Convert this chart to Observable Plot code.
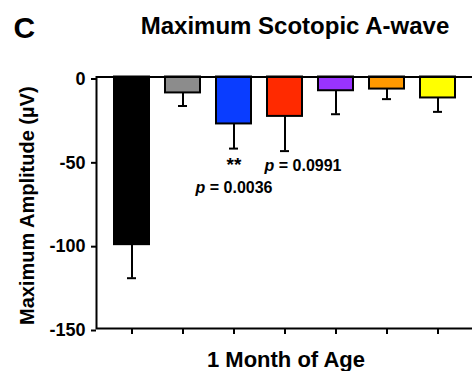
<!DOCTYPE html>
<html>
<head>
<meta charset="utf-8">
<script src="https://cdn.jsdelivr.net/npm/d3@7"></script>
<script src="https://cdn.jsdelivr.net/npm/@observablehq/plot@0.6"></script>
<style>
  body { margin: 0; background: white; }
</style>
</head>
<body>
<div id="chart"></div>
<script>
// Maximum scotopic a-wave amplitude at 1 month of age (mean ± SEM, µV)
const groups = ["G1", "G2", "G3", "G4", "G5", "G6", "G7"];
const colors = ["#000000", "#8c8c8c", "#0a3dff", "#ff2a00", "#9933ff", "#ff9900", "#ffff00"];
const means = [-100, -9.5, -28, -23.5, -8.2, -7.2, -12.5];
const sems = [20, 7.8, 14.7, 20.7, 14.0, 6.0, 8.3];
const yTicks = [0, -50, -100, -150];

// Significance notes attached to the end of each group's error bar
const noteGroups = ["G3", "G3", "G4"];
const noteTexts = ["**", "p = 0.0036", "p = 0.0991"];

const data = groups.map((g, i) => ({
  group: g,
  color: colors[i],
  mean: means[i],
  low: means[i] - sems[i]
}));
const lowOf = Object.fromEntries(data.map(d => [d.group, d.low]));
const notes = noteGroups.map((g, i) => ({group: g, text: noteTexts[i], y: lowOf[g]}));

const font = "'Liberation Sans', Arial, Helvetica, sans-serif";

const chart = Plot.plot({
  width: 472,
  height: 371,
  marginLeft: 96,
  marginRight: 0,
  marginTop: 76.5,
  marginBottom: 43,
  style: {fontFamily: font, fontWeight: "bold", fontSize: "18px", color: "black", background: "white"},
  x: {domain: groups, paddingInner: 0.32, paddingOuter: 0.33},
  y: {domain: [-150, 0]},
  marks: [
    // error bars (downward only)
    Plot.ruleX(data, {x: "group", y1: "mean", y2: "low", stroke: "black", strokeWidth: 2}),
    Plot.tickY(data, {x: "group", y: "low", stroke: "black", strokeWidth: 2, insetLeft: 13, insetRight: 13}),
    // bars
    Plot.barY(data, {x: "group", y: "mean", fill: "color", stroke: "black", strokeWidth: 2}),
    // axes
    Plot.axisY({ticks: yTicks, tickSize: 5, tickPadding: 6, strokeWidth: 2, fontSize: 18, dy: 2, label: null, tickFormat: d => String(d)}),
    Plot.axisX({tickSize: 6, strokeWidth: 2, tickFormat: () => "", label: null}),
    Plot.frame({stroke: "black", strokeWidth: 2, insetRight: -6}),
    // annotations
    Plot.text(notes.filter(d => d.text === "**"), {x: "group", y: "y", text: "text", fontSize: 19, lineAnchor: "bottom", dy: 22}),
    Plot.text(notes.filter(d => d.text === "p = 0.0036"), {x: "group", y: "y", text: "text", fontSize: 16, lineAnchor: "bottom", dy: 44, dx: 0}),
    Plot.text(notes.filter(d => d.text === "p = 0.0991"), {x: "group", y: "y", text: "text", fontSize: 16, lineAnchor: "bottom", dy: 20, dx: 18}),
    // panel letter, title, axis labels
    Plot.text(["C"], {frameAnchor: "top-left", textAnchor: "start", lineAnchor: "bottom", fontSize: 30, dx: -83, dy: -39.5}),
    Plot.text(["Maximum Scotopic A-wave"], {frameAnchor: "top", textAnchor: "middle", lineAnchor: "bottom", fontSize: 24, dx: 10.5, dy: -43.5}),
    Plot.text(["Maximum Amplitude (µV)"], {frameAnchor: "left", textAnchor: "middle", rotate: -90, lineAnchor: "bottom", fontSize: 20, dx: -63, dy: 3}),
    Plot.text(["1 Month of Age"], {frameAnchor: "bottom", textAnchor: "middle", lineAnchor: "bottom", fontSize: 22, dx: 1.5, dy: 38.5})
  ]
});

// italicise the "p" in p-value notes
d3.select(chart).selectAll("text").each(function () {
  const t = this.textContent;
  if (t.startsWith("p = ")) {
    const sel = d3.select(this);
    sel.text(null);
    sel.append("tspan").attr("font-style", "italic").text("p");
    sel.append("tspan").text(t.slice(1));
  }
});

document.getElementById("chart").append(chart);
</script>
</body>
</html>
